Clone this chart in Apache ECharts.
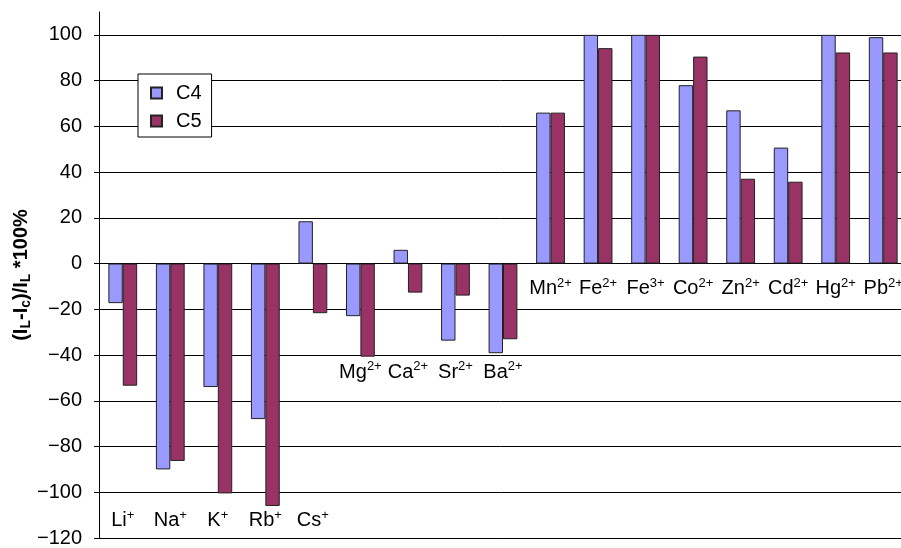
<!DOCTYPE html>
<html>
<head>
<meta charset="utf-8">
<script src="https://cdn.jsdelivr.net/npm/echarts@6/dist/echarts.min.js"></script>
<style>
html,body{margin:0;padding:0;background:#fff;}
#chart{width:901px;height:548px;}
</style>
</head>
<body>
<div id="chart"></div>
<script>
// ---- data ----
var ions = ['Li','Na','K','Rb','Cs','Mg','Ca','Sr','Ba','Mn','Fe','Fe','Co','Zn','Cd','Hg','Pb'];
var charges = ['+','+','+','+','+','2+','2+','2+','2+','2+','2+','3+','2+','2+','2+','2+','2+'];
var c4 = [-17.3,-90,-54,-68,18.5,-23,6,-33.7,-39.2,66,100,100,78,67,50.7,100,99];
var c5 = [-53.4,-86.3,-100.5,-106,-21.7,-40.7,-12.7,-14,-33.1,66,94.2,100,90.5,37.1,35.8,92.3,92.3];
var labelRowY = [-112.5,-112.5,-112.5,-112.5,-112.5,-47.5,-47.5,-47.5,-47.5,-11,-11,-11,-11,-11,-11,-11,-11];
var yTicks = [-120,-100,-80,-60,-40,-20,0,20,40,60,80,100];
var seriesNames = ['C4','C5'];

var categories = ions.map(function(n,i){ return n + charges[i]; });
var labelData = categories.map(function(c,i){ return [c, labelRowY[i]]; });

var FONT = '"Liberation Sans", Arial, sans-serif';
var chart = echarts.init(document.getElementById('chart'), null, {renderer:'canvas'});
chart.setOption({
  animation:false,
  backgroundColor:'#fff',
  textStyle:{fontFamily:FONT},
  grid:{left:99, right:-6, top:12, bottom:10, containLabel:false, outerBoundsMode:'none'},
  legend:{
    data:seriesNames, orient:'vertical', left:138, top:74,
    backgroundColor:'#fff', borderColor:'#000', borderWidth:1,
    padding:[9,10,6,12], itemGap:8, itemWidth:11, itemHeight:11, icon:'rect',
    textStyle:{fontSize:20, color:'#000', fontFamily:FONT, padding:[0,0,0,9]}
  },
  xAxis:{
    type:'category', data:categories,
    axisLine:{onZero:false, lineStyle:{color:'#000', width:1}},
    axisTick:{show:false}, axisLabel:{show:false}, splitLine:{show:false}
  },
  yAxis:{
    type:'value', min:-120, max:110, interval:20,
    name:'(I{s|L}-I{s|c})/I{s|L} *100%', nameLocation:'middle', nameGap:66, nameMoveOverlap:false,
    nameTextStyle:{fontSize:20, fontWeight:'bold', color:'#000', fontFamily:FONT, lineHeight:24,
      rich:{s:{fontSize:14, fontWeight:'bold', color:'#000', fontFamily:FONT, verticalAlign:'bottom', lineHeight:14}}},
    axisLine:{show:true, lineStyle:{color:'#000', width:1}},
    axisTick:{show:true, length:5, lineStyle:{color:'#000'}},
    axisLabel:{fontSize:20, color:'#000', margin:17, showMaxLabel:false, fontFamily:FONT,
      formatter:function(v){ if (yTicks.indexOf(v) < 0) return ''; return String(v).replace('-', '\u2212'); }},
    splitLine:{show:true, showMaxLine:false, lineStyle:{color:'#000', width:1}}
  },
  series:[
    {name:seriesNames[0], type:'bar', data:c4, barWidth:'30.3%', barGap:'0%',
     itemStyle:{color:'#9999FF', borderColor:'#222', borderWidth:1}},
    {name:seriesNames[1], type:'bar', data:c5, barWidth:'30.3%', barGap:'0%',
     itemStyle:{color:'#993366', borderColor:'#222', borderWidth:1}},
    {name:'labels', type:'scatter', data:labelData, symbolSize:1, silent:true,
     itemStyle:{color:'rgba(0,0,0,0)', opacity:1},
     label:{show:true, position:'inside', fontSize:20, color:'#000', lineHeight:24, fontFamily:FONT,
       formatter:function(p){ var i=p.dataIndex; return ions[i] + '{p|' + charges[i] + '}'; },
       rich:{p:{fontSize:13, color:'#000', fontFamily:FONT, verticalAlign:'top', lineHeight:13}}}
    }
  ]
});
</script>
</body>
</html>
